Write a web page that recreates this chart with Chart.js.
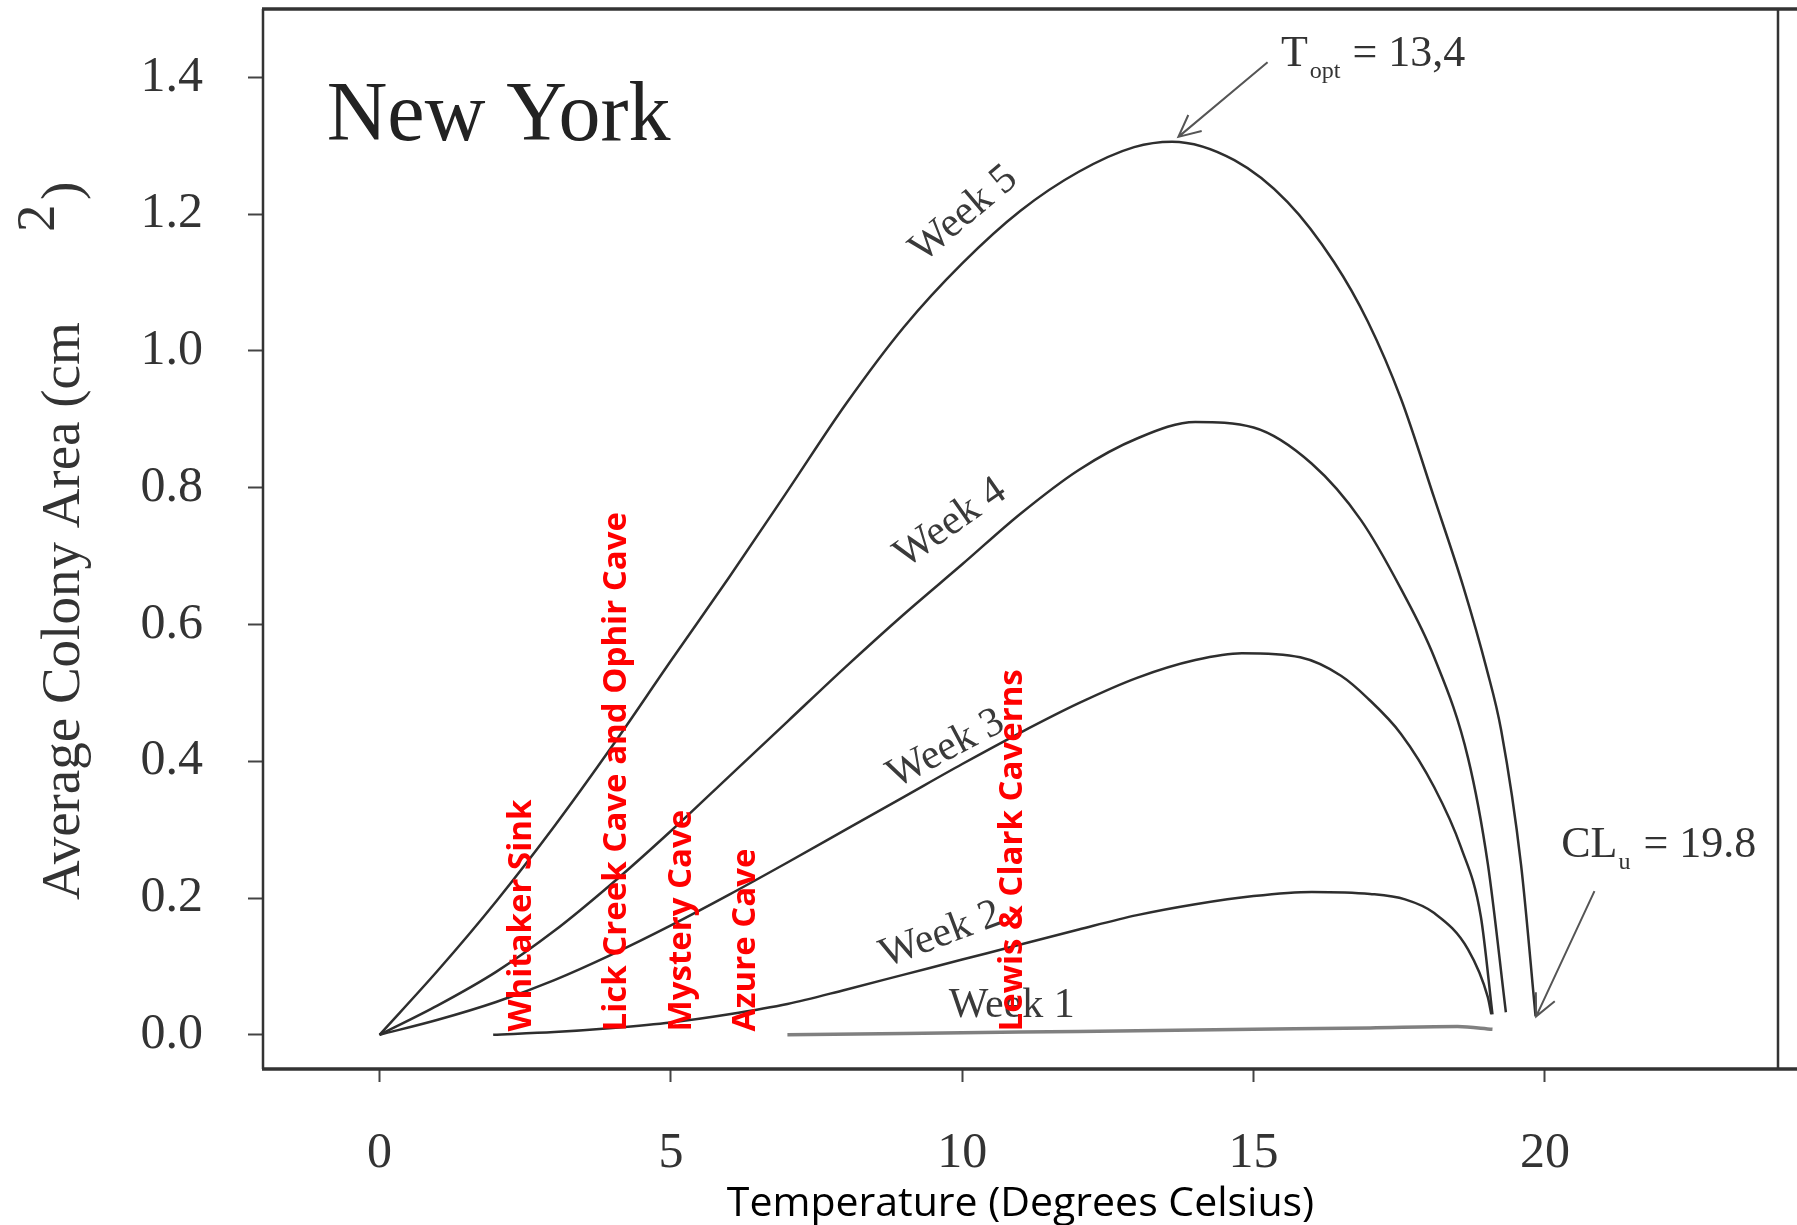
<!DOCTYPE html>
<html>
<head>
<meta charset="utf-8">
<script src="https://cdn.jsdelivr.net/npm/chart.js@4.4.1/dist/chart.umd.min.js"></script>
<style>
  html, body { margin: 0; padding: 0; background: #fff; }
</style>
</head>
<body>
<canvas id="grafico" width="1797" height="1225"></canvas>
<script>
const semana1Temp = [7.0, 9, 11, 13, 15, 17, 18.5, 19.1];
const semana1Area = [0, 0.002, 0.004, 0.006, 0.008, 0.010, 0.012, 0.008];

const semana2Temp = [1.95, 3, 4, 5, 6, 7, 8, 9, 10, 11, 12, 13, 14, 15, 16, 17, 17.6, 18.1, 18.68, 19.02, 19.08];
const semana2Area = [0, 0.004, 0.010, 0.018, 0.030, 0.045, 0.066, 0.088, 0.110, 0.132, 0.154, 0.175, 0.191, 0.203, 0.209, 0.206, 0.198, 0.178, 0.125, 0.055, 0.030];

const semana3Temp = [0, 1, 2, 3, 4, 5, 6, 7, 8, 9, 10, 11, 12, 13, 14, 14.8, 15.8, 16.5, 16.96, 17.53, 18.1, 18.56, 18.9, 19.1];
const semana3Area = [0, 0.022, 0.048, 0.080, 0.118, 0.160, 0.205, 0.252, 0.300, 0.348, 0.396, 0.442, 0.485, 0.522, 0.548, 0.558, 0.552, 0.525, 0.492, 0.440, 0.362, 0.274, 0.173, 0.030];

const semana4Temp = [0, 1, 2, 3, 4, 5, 6, 7, 8, 9, 10, 11, 12, 13, 14, 15, 16, 16.84, 17.53, 18.1, 18.68, 19.02, 19.33];
const semana4Area = [0, 0.043, 0.092, 0.152, 0.222, 0.298, 0.378, 0.458, 0.538, 0.615, 0.688, 0.762, 0.826, 0.872, 0.896, 0.888, 0.835, 0.753, 0.652, 0.552, 0.405, 0.250, 0.033];

const semana5Temp = [0, 1, 2, 3, 4, 5, 6, 7, 8, 9, 10, 11, 12, 12.95, 13.6, 14.67, 15.58, 16.38, 16.96, 17.53, 18.1, 18.6, 19.0, 19.25, 19.59, 19.84];
const semana5Area = [0, 0.094, 0.195, 0.305, 0.423, 0.547, 0.669, 0.795, 0.922, 1.035, 1.128, 1.205, 1.262, 1.298, 1.306, 1.279, 1.218, 1.130, 1.043, 0.930, 0.785, 0.655, 0.535, 0.445, 0.249, 0.027];

// Etiquetas de los ejes
const xTicks = [0, 5, 10, 15, 20];
const yTicks = [0, 0.2, 0.4, 0.6, 0.8, 1.0, 1.2, 1.4];

// Cuevas y su temperatura
const cuevas = ['Whitaker Sink', 'Lick Creek Cave and Ophir Cave', 'Mystery Cave', 'Azure Cave', 'Lewis & Clark Caverns'];
const cuevasTemp = [2.44, 4.06, 5.18, 6.28, 10.86];

// Etiquetas de las semanas: texto, posición sobre la curva y ángulo
const semanasTexto = ['Week 1', 'Week 2', 'Week 3', 'Week 4', 'Week 5'];
const semanasX = [10.85, 9.63, 9.72, 9.8, 10.03];
const semanasY = [0.042, 0.146, 0.418, 0.748, 1.2];
const semanasAngulo = [0, 20.5, 28, 35, 40];

let puntos = (temp, area) => temp.map((t, i) => ({ x: t, y: area[i] }));

let serie = (temp, area, color, ancho) => ({
  data: puntos(temp, area),
  borderColor: color,
  borderWidth: ancho,
  pointRadius: 0,
  fill: false,
  cubicInterpolationMode: 'monotone'
});

const serif = '"Liberation Serif", "Times New Roman", serif';

let anotaciones = {
  id: 'anotaciones',
  afterDraw: (chart) => {
    let ctx = chart.ctx;
    let ca = chart.chartArea;
    let px = v => chart.scales.x.getPixelForValue(v);
    let py = v => chart.scales.y.getPixelForValue(v);

    //Marco del gráfico
    ctx.save();
    ctx.strokeStyle = '#333';
    ctx.lineWidth = 3.5;
    ctx.beginPath();
    ctx.moveTo(ca.left - 1, ca.top); ctx.lineTo(chart.width, ca.top);
    ctx.moveTo(ca.left - 1, ca.bottom); ctx.lineTo(chart.width, ca.bottom);
    ctx.stroke();
    ctx.lineWidth = 2.5;
    ctx.beginPath();
    ctx.moveTo(ca.left, ca.top); ctx.lineTo(ca.left, ca.bottom);
    ctx.moveTo(ca.right, ca.top); ctx.lineTo(ca.right, ca.bottom);
    ctx.stroke();

    //Título dentro del área
    ctx.fillStyle = '#222';
    ctx.font = '84px ' + serif;
    ctx.textAlign = 'left';
    ctx.textBaseline = 'alphabetic';
    ctx.fillText('New York', px(-0.907), py(1.309));

    //Etiquetas de las semanas
    ctx.fillStyle = '#3a3a3a';
    ctx.font = '42px ' + serif;
    ctx.textAlign = 'center';
    ctx.textBaseline = 'middle';
    semanasTexto.forEach((txt, i) => {
      ctx.save();
      ctx.translate(px(semanasX[i]), py(semanasY[i]));
      ctx.rotate(-semanasAngulo[i] * Math.PI / 180);
      ctx.fillText(txt, 0, 0);
      ctx.restore();
    });

    //Flechas
    let flecha = (x0, y0, x1, y1) => {
      let a = Math.atan2(y1 - y0, x1 - x0);
      ctx.beginPath();
      ctx.moveTo(x0, y0); ctx.lineTo(x1, y1);
      ctx.moveTo(x1 - 24 * Math.cos(a - 0.45), y1 - 24 * Math.sin(a - 0.45));
      ctx.lineTo(x1, y1);
      ctx.lineTo(x1 - 24 * Math.cos(a + 0.45), y1 - 24 * Math.sin(a + 0.45));
      ctx.stroke();
    };
    ctx.strokeStyle = '#555';
    ctx.lineWidth = 2;
    flecha(px(15.24), py(1.422), px(13.71), py(1.313));
    flecha(px(20.85), py(0.21), px(19.85), py(0.027));

    //Textos de Topt y CLu
    ctx.fillStyle = '#333';
    ctx.textAlign = 'left';
    ctx.textBaseline = 'alphabetic';
    let x0 = px(15.47), y0 = py(1.4165);
    ctx.font = '44px ' + serif;
    ctx.fillText('T', x0, y0);
    let w = ctx.measureText('T').width;
    ctx.font = '24px ' + serif;
    ctx.fillText('opt', x0 + w + 2, y0 + 12);
    let w2 = ctx.measureText('opt').width;
    ctx.font = '44px ' + serif;
    ctx.fillText('= 13,4', x0 + w + w2 + 14, y0);

    x0 = px(20.28); y0 = py(0.2596);
    ctx.fillText('CL', x0, y0);
    w = ctx.measureText('CL').width;
    ctx.font = '24px ' + serif;
    ctx.fillText('u', x0 + w + 1, y0 + 12);
    w2 = ctx.measureText('u').width;
    ctx.font = '44px ' + serif;
    ctx.fillText('= 19.8', x0 + w + w2 + 14, y0);

    //Nombres de las cuevas en rojo
    ctx.fillStyle = '#ff0000';
    ctx.font = 'bold 33px "Open Sans", sans-serif';
    ctx.textAlign = 'left';
    ctx.textBaseline = 'middle';
    cuevas.forEach((nombre, i) => {
      ctx.save();
      ctx.translate(px(cuevasTemp[i]), py(0.005));
      ctx.rotate(-Math.PI / 2);
      ctx.fillText(nombre, 0, 0);
      ctx.restore();
    });

    //Título del eje Y con superíndice
    ctx.fillStyle = '#333';
    ctx.font = '55px ' + serif;
    ctx.textBaseline = 'alphabetic';
    ctx.save();
    ctx.translate(79, 900);
    ctx.rotate(-Math.PI / 2);
    ctx.fillText('Average Colony Area (cm', 0, 0);
    ctx.fillText('2', 668, -25);
    ctx.fillText(')', 700, 0);
    ctx.restore();

    //Título del eje X
    ctx.fillStyle = '#000';
    ctx.font = '41px "Open Sans", sans-serif';
    ctx.textAlign = 'center';
    ctx.fillText('Temperature (Degrees Celsius)', (ca.left + ca.right) / 2, 1216);
    ctx.restore();
  }
};

let config = {
  type: 'line',
  data: {
    datasets: [
      serie(semana1Temp, semana1Area, '#808080', 3.5),
      serie(semana2Temp, semana2Area, '#2e2e2e', 2.5),
      serie(semana3Temp, semana3Area, '#2e2e2e', 2.5),
      serie(semana4Temp, semana4Area, '#2e2e2e', 2.5),
      serie(semana5Temp, semana5Area, '#2e2e2e', 2.5)
    ]
  },
  options: {
    responsive: false,
    animation: false,
    layout: { padding: { top: 9, right: 19, left: 0, bottom: 0 } },
    plugins: { legend: { display: false }, tooltip: { enabled: false } },
    scales: {
      x: {
        type: 'linear',
        min: -2,
        max: 24,
        afterFit: s => { s.height = 156; s.paddingLeft = 0; s.paddingRight = 0; },
        afterBuildTicks: s => { s.ticks = xTicks.map(v => ({ value: v })); },
        border: { display: false },
        grid: { drawOnChartArea: false, drawTicks: true, tickLength: 13, tickWidth: 2, tickColor: '#444' },
        ticks: {
          autoSkip: false,
          maxRotation: 0,
          padding: 42,
          color: '#333',
          font: { family: serif, size: 50 },
          callback: v => String(v)
        }
      },
      y: {
        type: 'linear',
        min: -0.05,
        max: 1.5,
        afterFit: s => { s.width = 263; s.paddingTop = 0; s.paddingBottom = 0; },
        afterBuildTicks: s => { s.ticks = yTicks.map(v => ({ value: v })); },
        border: { display: false },
        grid: { drawOnChartArea: false, drawTicks: true, tickLength: 15, tickWidth: 2, tickColor: '#444' },
        ticks: {
          autoSkip: false,
          padding: 45,
          color: '#333',
          font: { family: serif, size: 50 },
          callback: v => Number(v).toFixed(1)
        }
      }
    }
  },
  plugins: [anotaciones]
};

new Chart(document.getElementById('grafico'), config);
</script>
</body>
</html>
